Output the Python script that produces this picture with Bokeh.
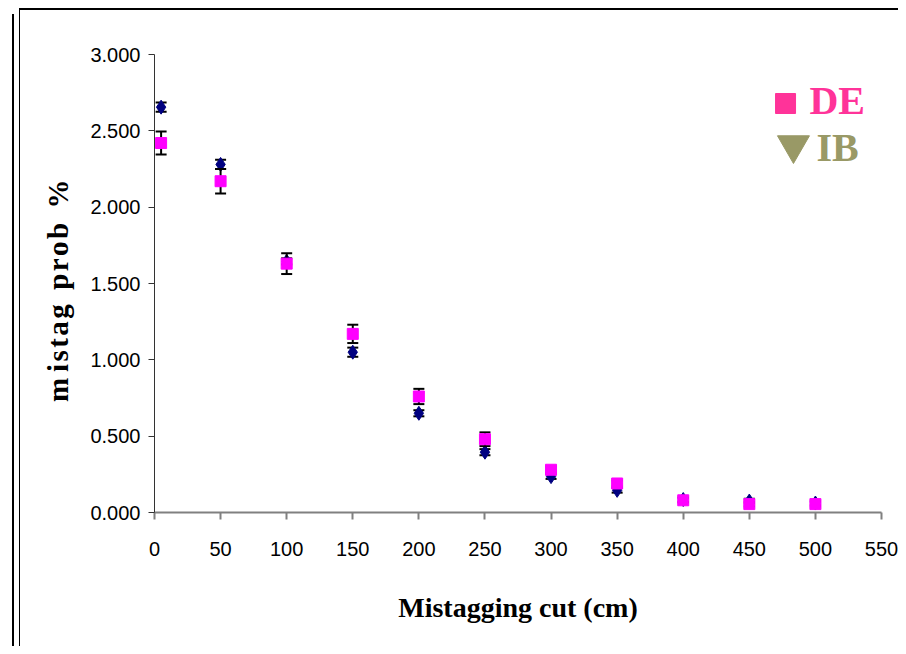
from bokeh.plotting import figure
from bokeh.models import (FixedTicker, NumeralTickFormatter, Label, Range1d, ColumnDataSource)
from bokeh.embed import file_html
from bokeh.resources import INLINE

# ---- data ----
cut = [5, 50, 100, 150, 200, 250, 300, 350, 400, 450, 500]
de = [2.42, 2.17, 1.63, 1.17, 0.76, 0.48, 0.28, 0.19, 0.08, 0.055, 0.055]
de_err = [0.075, 0.08, 0.068, 0.06, 0.05, 0.045, 0.02, 0.02, 0.015, 0.015, 0.015]
ib = [2.655, 2.28, 1.645, 1.05, 0.65, 0.395, 0.235, 0.145, 0.085, 0.075, 0.062]
ib_err = [0.03, 0.03, 0.02, 0.03, 0.02, 0.02, 0.015, 0.015, 0.015, 0.015, 0.015]
x_ticks = [0, 50, 100, 150, 200, 250, 300, 350, 400, 450, 500, 550]
y_ticks = [0, 0.5, 1.0, 1.5, 2.0, 2.5, 3.0]
legend_names = ["DE", "IB"]

PINK = "#FF00FF"
NAVY = "#000080"
LEG_PINK = "#FF3399"
LEG_OLIVE = "#999966"

src_de = ColumnDataSource(dict(x=cut, y=de,
                               lo=[v - e for v, e in zip(de, de_err)],
                               hi=[v + e for v, e in zip(de, de_err)]))
src_ib = ColumnDataSource(dict(x=cut, y=ib,
                               lo=[v - e for v, e in zip(ib, ib_err)],
                               hi=[v + e for v, e in zip(ib, ib_err)]))

p = figure(frame_width=727, frame_height=458, output_backend="svg",
           toolbar_location=None, x_range=Range1d(0, 550), y_range=Range1d(0, 3),
           min_border_left=154, min_border_right=17, min_border_top=54,
           min_border_bottom=134)
p.xgrid.visible = False
p.ygrid.visible = False
p.outline_line_color = None
p.background_fill_color = "white"
p.border_fill_color = None

# decorative page frame lines (drawn as host background behind a transparent border)
p.styles = {
    "background-color": "white",
    "background-image": "linear-gradient(#000,#000), linear-gradient(#000,#000), linear-gradient(#000,#000)",
    "background-size": "2px 640px, 1px 646px, 887px 2px",
    "background-position": "12px 14px, 19px 8px, 19px 8px",
    "background-repeat": "no-repeat",
}

TICK_FONT = "Liberation Sans"

# axes
p.xaxis.ticker = FixedTicker(ticks=x_ticks)
p.yaxis.ticker = FixedTicker(ticks=y_ticks)
p.yaxis.formatter = NumeralTickFormatter(format="0.000")
for ax in (p.xaxis[0], p.yaxis[0]):
    ax.major_label_text_font = TICK_FONT
    ax.major_label_text_font_size = "20px"
    ax.major_label_text_color = "black"
    ax.minor_tick_line_color = None
    ax.major_tick_in = 0
    ax.axis_label_text_font = "Liberation Serif"
    ax.axis_label_text_font_style = "bold"
    ax.axis_label_text_color = "black"

p.xaxis.axis_label_text_font_size = "28px"
p.yaxis.axis_label_text_font_size = "29px"

p.xaxis.axis_line_color = "#808080"
p.xaxis.axis_line_width = 2
p.xaxis.major_tick_line_color = "#808080"
p.xaxis.major_tick_line_width = 2
p.xaxis.major_tick_out = 7
p.xaxis.major_label_standoff = 22
p.xaxis.axis_label = "Mistagging cut (cm)"
p.xaxis.axis_label_standoff = 33

p.yaxis.axis_line_color = "#333333"
p.yaxis.axis_line_width = 1
p.yaxis.major_tick_line_color = "#333333"
p.yaxis.major_tick_out = 6
p.yaxis.major_label_standoff = 8
p.yaxis.axis_label = "m\u2009i\u200as\u200at\u200aa\u200ag\u2002p\u200ar\u200ao\u200ab\u2002%\u2002"
p.yaxis.axis_label_standoff = 13

# IB series (navy diamonds) with error bars
p.segment(x0="x", y0="lo", x1="x", y1="hi", source=src_ib, line_color="black", line_width=2)
p.scatter(x="x", y="lo", source=src_ib, marker="dash", size=11, line_color="black", line_width=2)
p.scatter(x="x", y="hi", source=src_ib, marker="dash", size=11, line_color="black", line_width=2)
p.scatter(x="x", y="y", source=src_ib, marker="diamond", size=14,
          fill_color=NAVY, line_color=NAVY)

# DE series (magenta squares) with error bars
p.segment(x0="x", y0="lo", x1="x", y1="hi", source=src_de, line_color="black", line_width=2)
p.scatter(x="x", y="lo", source=src_de, marker="dash", size=11, line_color="black", line_width=2)
p.scatter(x="x", y="hi", source=src_de, marker="dash", size=11, line_color="black", line_width=2)
p.scatter(x="x", y="y", source=src_de, marker="square", size=11,
          fill_color=PINK, line_color=PINK)

# custom legend
p.scatter(x=[477.4], y=[2.679], marker="square", size=20,
          fill_color=LEG_PINK, line_color=LEG_PINK)
p.scatter(x=[483.4], y=[2.407], marker="inverted_triangle", size=32,
          fill_color=LEG_OLIVE, line_color=LEG_OLIVE)
p.add_layout(Label(x=495.5, y=2.70, text=legend_names[0], text_font="Liberation Serif",
                   text_font_style="bold", text_font_size="40px", text_color=LEG_PINK,
                   text_baseline="alphabetic"))
p.add_layout(Label(x=500.8, y=2.391, text=legend_names[1], text_font="Liberation Serif",
                   text_font_style="bold", text_font_size="40px", text_color=LEG_OLIVE,
                   text_baseline="alphabetic"))

open("out.html", "w").write(file_html(p, INLINE))
